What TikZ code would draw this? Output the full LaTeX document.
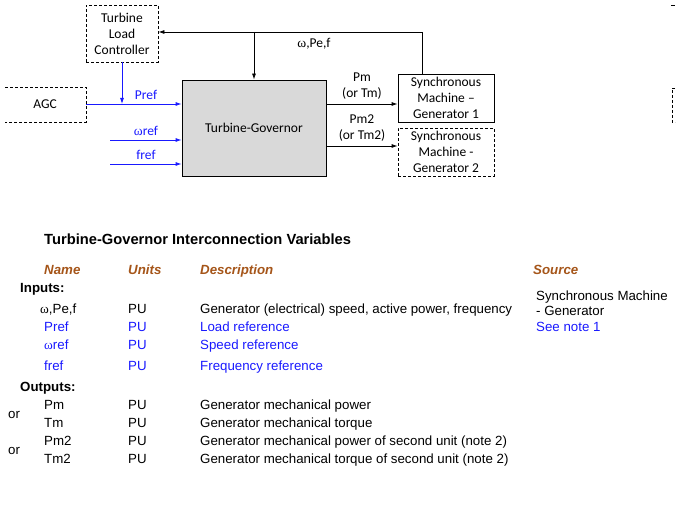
\documentclass[tikz,border=0pt]{standalone}
\usepackage{fontspec}
\setmainfont{Liberation Sans}
\newfontfamily\diagfont{Carlito}
\newfontfamily\omegafont{Liberation Serif}
\usetikzlibrary{arrows.meta}
\definecolor{refblue}{RGB}{25,25,255}
\definecolor{hdrbrown}{RGB}{165,85,25}
\definecolor{boxgray}{RGB}{217,217,217}
\newcommand{\om}{{\omegafont ω}}
\begin{document}
\begin{tikzpicture}[x=1pt,y=-1pt,
  blk/.style={draw, line width=0.8pt, align=center, inner sep=0,
    font=\diagfont\fontsize{13.5}{16}\selectfont},
  dbox/.style={blk, dash pattern=on 3pt off 2pt},
  arr/.style={-{Latex[length=6pt,width=4pt]}, line width=0.8pt},
  lbl/.style={inner sep=0, align=center, font=\diagfont\fontsize{13.5}{16}\selectfont},
  txt/.style={anchor=base west, inner sep=0, font=\fontsize{13.3}{15}\selectfont},
  hdr/.style={txt, text=hdrbrown, font=\fontsize{13.3}{15}\selectfont\bfseries\itshape},
  sec/.style={txt, font=\fontsize{13.3}{15}\selectfont\bfseries},
  blu/.style={txt, text=refblue}]
\useasboundingbox (0,0) rectangle (684,521);

% ---- diagram ----
\node[dbox, minimum width=72, minimum height=57] (tlc) at (122,33.5) {Turbine\\Load\\Controller};
\node[lbl] (agc) at (45,104) {AGC};
\draw[dash pattern=on 3pt off 2pt, line width=0.8pt] (5,87) -- (86,87) -- (86,122) -- (5,122);
\coordinate (agcR) at (86,104);
\node[blk, fill=boxgray, minimum width=144, minimum height=96] (tg) at (254,128) {Turbine-Governor};
\node[blk, minimum width=96, minimum height=48] (sm1) at (446,98) {Synchronous\\Machine –\\Generator 1};
\node[dbox, minimum width=96, minimum height=48] (sm2) at (446,152) {Synchronous\\Machine -\\Generator 2};

\coordinate (fbtop) at (422,32);
\draw[arr] (sm1.north -| fbtop) -- (fbtop) -- (tlc.east |- fbtop);
\draw[arr] (tg.north |- fbtop) -- (tg.north);
\node[lbl] (wpef) at (314,44) {\om,Pe,f};

\draw[arr, refblue] (agcR) -- (tg.west |- agcR);
\draw[arr, refblue] (tlc.south) -- (tlc.south |- agcR);
\coordinate (wsrc) at (110,140);
\coordinate (fsrc) at (110,164);
\draw[arr, refblue] (wsrc) -- (tg.west |- wsrc);
\draw[arr, refblue] (fsrc) -- (tg.west |- fsrc);
\node[lbl, text=refblue] (lpref) at (146,95) {Pref};
\node[lbl, text=refblue] (lwref) at (146,131) {\om ref};
\node[lbl, text=refblue] (lfref) at (146,155) {fref};

\coordinate (pmsrc) at (326,104);
\coordinate (pm2src) at (326,146);
\draw[arr] (pmsrc) -- (sm1.west |- pmsrc);
\draw[arr] (pm2src) -- (sm2.west |- pm2src);
\node[lbl] (lpm) at (362,86.5) {Pm\\(or Tm)};
\node[lbl] (lpm2) at (362,128) {Pm2\\(or Tm2)};

% clipped fragments at right edge
\draw[line width=0.8pt] (671,5) -- (675,5);
\draw[dash pattern=on 3pt off 2pt, line width=0.8pt] (675,88) -- (672,88) -- (672,122) -- (675,122);

% ---- table ----
\node[sec, font=\fontsize{14.7}{16}\selectfont\bfseries] (title) at (44,244) {Turbine-Governor Interconnection Variables};
\node[hdr] (hname) at (44,274) {Name};
\node[hdr] (hunits) at (128,274) {Units};
\node[hdr] (hdesc) at (200,274) {Description};
\node[hdr] (hsrc) at (533,274) {Source};
\node[sec] (inputs) at (20,292) {Inputs:};

\node[txt] (r1n) at (40,313) {\om,Pe,f};
\node[txt] (r1u) at (128,313) {PU};
\node[txt] (r1d) at (200,313) {Generator (electrical) speed, active power, frequency};
\node[txt] (s1) at (536,300) {Synchronous Machine};
\node[txt] (s2) at (536,315) {- Generator};
\node[blu] (s3) at (536,331) {See note 1};

\node[blu] (r2n) at (44,331) {Pref};
\node[blu] (r2u) at (128,331) {PU};
\node[blu] (r2d) at (200,331) {Load reference};
\node[blu] (r3n) at (44,349) {\om ref};
\node[blu] (r3u) at (128,349) {PU};
\node[blu] (r3d) at (200,349) {Speed reference};
\node[blu] (r4n) at (44,370) {fref};
\node[blu] (r4u) at (128,370) {PU};
\node[blu] (r4d) at (200,370) {Frequency reference};

\node[sec] (outputs) at (20,391) {Outputs:};
\node[txt] (or1) at (8,418) {or};
\node[txt] (or2) at (8,454) {or};
\node[txt] (o1n) at (44,409) {Pm};
\node[txt] (o1u) at (128,409) {PU};
\node[txt] (o1d) at (200,409) {Generator mechanical power};
\node[txt] (o2n) at (44,427) {Tm};
\node[txt] (o2u) at (128,427) {PU};
\node[txt] (o2d) at (200,427) {Generator mechanical torque};
\node[txt] (o3n) at (44,445) {Pm2};
\node[txt] (o3u) at (128,445) {PU};
\node[txt] (o3d) at (200,445) {Generator mechanical power of second unit (note 2)};
\node[txt] (o4n) at (44,463) {Tm2};
\node[txt] (o4u) at (128,463) {PU};
\node[txt] (o4d) at (200,463) {Generator mechanical torque of second unit (note 2)};
\end{tikzpicture}
\end{document}
